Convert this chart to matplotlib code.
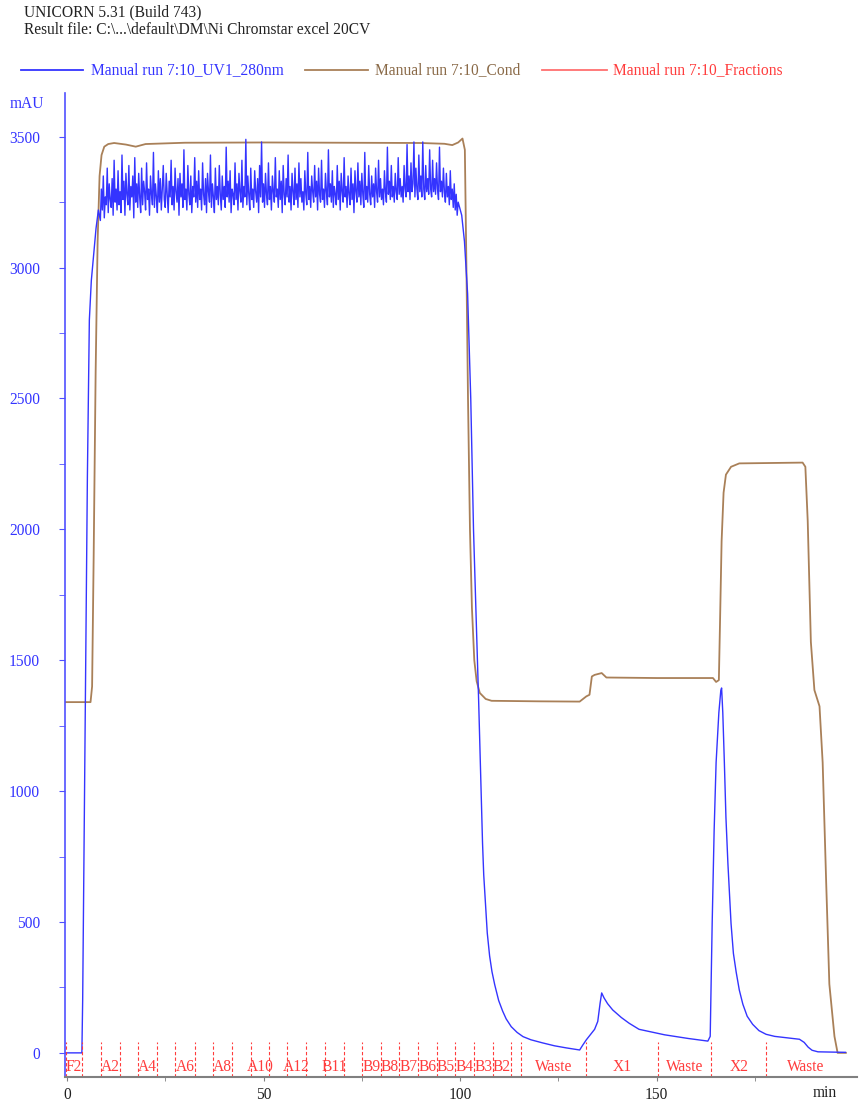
import matplotlib
matplotlib.use("Agg")
import matplotlib.pyplot as plt
import numpy as np
from matplotlib.lines import Line2D

plt.rcParams['font.family'] = ['Liberation Serif', 'DejaVu Serif']

# UV1_280nm (mAU) -------------------------------------------------------------
# start of the run, up to the loading plateau
uv_rise_t = [-0.5, 3.8, 4.0, 4.6, 5.2, 5.7, 6.2, 6.8, 7.4, 8.0]
uv_rise = [0, 0, 200, 1200, 2200, 2800, 2950, 3050, 3150, 3220]

# noisy loading plateau, read every 0.25 min from 8.5 to 99.5 min
plateau_start = 8.5
plateau_step = 0.25
uv_plateau = [
    3180, 3300, 3220, 3350, 3190, 3270, 3240, 3380, 3210, 3320, 3260, 3230, 3340, 3200, 3410, 3250, 3300, 3220, 3370, 3240,
    3290, 3210, 3430, 3260, 3330, 3200, 3360, 3280, 3240, 3390, 3220, 3310, 3270, 3350, 3190, 3420, 3250, 3320, 3230, 3360,
    3270, 3210, 3380, 3240, 3330, 3290, 3220, 3400, 3260, 3300, 3200, 3350, 3280, 3240, 3440, 3230, 3320, 3270, 3210, 3370,
    3250, 3340, 3220, 3300, 3390, 3260, 3230, 3360, 3280, 3210, 3330, 3270, 3410, 3240, 3310, 3220, 3380, 3290, 3250, 3340,
    3200, 3360, 3270, 3320, 3230, 3450, 3260, 3300, 3220, 3390, 3280, 3240, 3350, 3210, 3310, 3270, 3420, 3250, 3330, 3230,
    3370, 3260, 3300, 3220, 3400, 3280, 3240, 3340, 3210, 3360, 3290, 3250, 3430, 3230, 3320, 3270, 3210, 3380, 3260, 3310,
    3240, 3390, 3280, 3220, 3350, 3260, 3310, 3230, 3460, 3270, 3330, 3250, 3370, 3210, 3300, 3280, 3240, 3400, 3260, 3320,
    3220, 3360, 3290, 3250, 3410, 3230, 3310, 3270, 3490, 3240, 3350, 3280, 3220, 3380, 3260, 3300, 3230, 3370, 3290, 3250,
    3340, 3210, 3390, 3270, 3480, 3250, 3320, 3230, 3360, 3280, 3240, 3400, 3260, 3310, 3220, 3350, 3290, 3250, 3420, 3270,
    3300, 3230, 3370, 3260, 3330, 3210, 3390, 3280, 3240, 3340, 3270, 3430, 3250, 3310, 3220, 3360, 3290, 3240, 3380, 3260,
    3320, 3230, 3400, 3270, 3340, 3250, 3290, 3220, 3370, 3280, 3240, 3440, 3260, 3310, 3230, 3350, 3290, 3250, 3390, 3270,
    3330, 3220, 3380, 3280, 3250, 3410, 3260, 3300, 3230, 3360, 3290, 3240, 3450, 3270, 3320, 3250, 3370, 3230, 3310, 3280,
    3240, 3390, 3260, 3330, 3220, 3360, 3290, 3250, 3420, 3270, 3310, 3230, 3350, 3280, 3240, 3380, 3260, 3320, 3210, 3370,
    3290, 3250, 3400, 3270, 3330, 3240, 3360, 3280, 3230, 3440, 3260, 3310, 3250, 3390, 3280, 3240, 3350, 3270, 3320, 3230,
    3380, 3290, 3250, 3410, 3270, 3340, 3260, 3300, 3240, 3370, 3290, 3250, 3460, 3280, 3330, 3260, 3390, 3270, 3310, 3250,
    3360, 3290, 3260, 3420, 3280, 3340, 3270, 3310, 3250, 3390, 3300, 3270, 3470, 3290, 3350, 3260, 3400, 3290, 3320, 3480,
    3270, 3380, 3300, 3260, 3430, 3290, 3350, 3270, 3480, 3300, 3260, 3390, 3290, 3340, 3280, 3450, 3300, 3270, 3410, 3290,
    3340, 3280, 3400, 3300, 3260, 3460, 3290, 3330, 3270, 3380, 3290, 3250, 3360, 3270, 3310, 3240, 3370, 3260, 3300, 3230,
    3320, 3220, 3280, 3200, 3250,
]

# wash out, X1 and X2 peaks
uv_tail_t = [100.4, 101.1, 101.9, 102.7, 103.4, 104.2, 104.7, 105.1, 105.4, 105.7,
             106.0, 106.5, 106.9, 107.5, 108.1, 108.8, 109.8, 110.8, 111.7, 113.0,
             114.5, 116.0, 118.0, 121.0, 124.0, 127.0, 130.4, 131.2, 132.1, 133.4,
             134.2, 135.0, 135.6, 136.0, 136.6, 137.5, 138.8, 141.0, 143.0, 145.5,
             152.0, 158.0, 163.0, 163.6, 164.1, 164.6, 165.1, 165.8, 166.3, 166.5,
             166.8, 167.2, 167.6, 168.1, 168.9, 169.5, 170.2, 171.0, 171.9, 173.0,
             174.4, 176.0, 177.8, 180.0, 182.9, 186.3, 187.5, 188.5, 189.5, 191.0,
             198.0]
uv_tail = [3200, 3100, 2900, 2500, 2000, 1600, 1349, 1130, 967, 800,
           680, 560, 458, 370, 310, 260, 200, 160, 130, 100,
           78, 62, 50, 38, 27, 19, 11, 30, 50, 75,
           90, 120, 190, 229, 210, 188, 164, 135, 113, 90,
           69, 55, 45, 63, 494, 850, 1109, 1300, 1385, 1394,
           1300, 1109, 900, 724, 494, 380, 309, 240, 186, 140,
           109, 85, 71, 63, 58, 52, 40, 22, 10, 4,
           2]

# Cond -----------------------------------------------------------------------
cond_t = [-0.5, 6.0, 6.4, 6.8, 7.3, 7.8, 8.3, 8.8, 9.5, 10.5,
          12.0, 15.0, 17.5, 20.0, 30.0, 50.0, 70.0, 90.0, 96.0, 98.0,
          99.5, 100.6, 101.2, 101.6, 102.0, 102.5, 103.0, 103.6, 104.2, 105.0,
          106.5, 108.0, 120.0, 130.4, 132.1, 132.9, 133.5, 134.2, 136.0, 137.2,
          150.0, 164.3, 165.1, 165.8, 166.1, 166.5, 167.0, 167.6, 168.9, 171.0,
          187.1, 187.8, 188.4, 189.2, 190.1, 191.4, 192.2, 193.1, 193.9, 195.2,
          196.0, 198.1]
cond = [1340, 1340, 1400, 1900, 2600, 3100, 3350, 3430, 3462, 3472,
        3476, 3470, 3462, 3472, 3477, 3478, 3477, 3476, 3473, 3468,
        3478, 3493, 3450, 3000, 2500, 2000, 1700, 1500, 1420, 1375,
        1352, 1345, 1343, 1342, 1362, 1368, 1438, 1444, 1451, 1434,
        1432, 1432, 1417, 1424, 1647, 1955, 2140, 2209, 2239, 2252,
        2255, 2239, 2032, 1570, 1386, 1324, 1109, 648, 263, 63,
        0, 0]

# Fractions ------------------------------------------------------------------
frac_edges = [-0.3, 3.9, 8.6, 13.5, 18.1, 22.9, 27.6, 32.5, 37.2, 42.0,
              46.7, 51.4, 56.0, 60.7, 65.6, 70.4, 75.0, 79.8, 84.4, 89.3,
              94.0, 98.7, 103.4, 108.3, 112.9, 115.6, 132.0, 150.2, 163.9, 177.9]
frac_labels = ['F2', '', 'A2', '', 'A4', '', 'A6', '', 'A8', '',
               'A10', '', 'A12', '', 'B11', '', 'B9', 'B8', 'B7', 'B6',
               'B5', 'B4', 'B3', 'B2', '', 'Waste', 'X1', 'Waste', 'X2', 'Waste']
run_end = 198.1

# colours
BLUE = '#3434ff'
BROWN = '#a98058'
RED = '#ff3c3c'
FS = 11.2

plateau_t = plateau_start + plateau_step * np.arange(len(uv_plateau))
uv_t = np.concatenate([uv_rise_t, plateau_t, uv_tail_t])
uv = np.concatenate([uv_rise, uv_plateau, uv_tail])

fig = plt.figure(figsize=(8.64, 11.04), dpi=100)
ax = fig.add_axes([0.0752, 0.0245, 0.917, 0.8915])

ax.plot(cond_t, cond, color=BROWN, linewidth=1.3)
ax.plot(uv_t, uv, color=BLUE, linewidth=1.0)

# fraction marks
for i, (e, lab) in enumerate(zip(frac_edges, frac_labels)):
    ax.plot([e, e], [-92, 42], color=RED, linewidth=0.8, linestyle=(0, (3, 2)))
    nxt = frac_edges[i + 1] if i + 1 < len(frac_edges) else run_end
    if lab:
        ax.text((e + nxt) / 2, -53, lab, color=RED, fontsize=FS,
                ha='center', va='center')

ax.set_xlim(-0.5, 201)
ax.set_ylim(-92, 3668)

for s in ['top', 'right']:
    ax.spines[s].set_visible(False)
ax.spines['left'].set_color('#5050ff')
ax.spines['left'].set_linewidth(1.2)
ax.spines['bottom'].set_color('#808080')
ax.spines['bottom'].set_linewidth(1.5)

ax.set_yticks(np.arange(0, 3501, 500))
ax.set_yticks(np.arange(250, 3501, 500), minor=True)
ax.set_xticks([0, 50, 100, 150])
ax.set_xticks([25, 75, 125, 175], minor=True)
ax.tick_params(axis='y', which='both', colors='#5050ff', labelcolor=BLUE,
               labelsize=FS, length=4, pad=14)
ax.tick_params(axis='x', which='both', colors='#808080', labelcolor='#202020',
               labelsize=FS, length=3, pad=4)

fig.text(27 / 864, 1 - 104 / 1104, 'mAU', color=BLUE, fontsize=FS,
         ha='center', va='center')
fig.text(825 / 864, 1 - 1093 / 1104, 'min', color='#202020', fontsize=FS,
         ha='center', va='center')

# header
fig.text(24 / 864, 1 - 12 / 1104, 'UNICORN 5.31 (Build 743)', color='#222222',
         fontsize=FS, ha='left', va='center')
fig.text(24 / 864, 1 - 30 / 1104,
         'Result file: C:\\...\\default\\DM\\Ni Chromstar excel 20CV',
         color='#222222', fontsize=FS, ha='left', va='center')

# legend drawn like the UNICORN header
leg_y = 1 - 70 / 1104
legend = [(21, 83, 91, BLUE, 'Manual run 7:10_UV1_280nm', BLUE),
          (305, 368, 375, BROWN, 'Manual run 7:10_Cond', '#8a6a48'),
          (542, 607, 613, '#ff7070', 'Manual run 7:10_Fractions', RED)]
for x0, x1, xt, lc, txt, tc in legend:
    fig.add_artist(Line2D([x0 / 864, x1 / 864], [leg_y, leg_y], color=lc,
                          linewidth=1.3, transform=fig.transFigure))
    fig.text(xt / 864, leg_y, txt, color=tc, fontsize=FS, ha='left', va='center')

fig.savefig('out.png', dpi=100)
